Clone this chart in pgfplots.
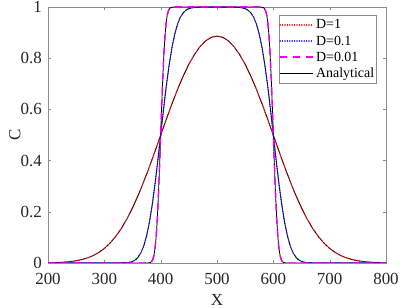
\documentclass[border=0pt]{standalone}
\usepackage{fontspec}
\setmainfont{Liberation Serif}
\usepackage{pgfplots}
\pgfplotsset{compat=1.18}
\usepackage{pgfplotstable}

\pgfplotstableread{
x c
200 0.0008
210 0.0013
220 0.0022
230 0.0036
240 0.0057
250 0.0088
260 0.0134
270 0.0199
280 0.0288
290 0.0409
300 0.0568
310 0.0774
320 0.1032
330 0.1344
340 0.1718
350 0.2152
360 0.2641
370 0.3181
380 0.3758
390 0.4367
400 0.4992
410 0.5615
420 0.6218
430 0.6782
440 0.7302
450 0.7760
460 0.8148
470 0.8457
480 0.8680
490 0.8817
500 0.8863
510 0.8817
520 0.8680
530 0.8457
540 0.8148
550 0.7760
560 0.7302
570 0.6782
580 0.6218
590 0.5615
600 0.4992
610 0.4367
620 0.3758
630 0.3181
640 0.2641
650 0.2152
660 0.1718
670 0.1344
680 0.1032
690 0.0774
700 0.0568
710 0.0409
720 0.0288
730 0.0199
740 0.0134
750 0.0088
760 0.0057
770 0.0036
780 0.0022
790 0.0013
800 0.0008
}\dataA

\pgfplotstableread{
x c
200 0
250 0
300 0
320 0.00003
330 0.0002
340 0.0014
345 0.0030
350 0.0062
355 0.0122
360 0.0227
365 0.0400
370 0.0666
375 0.1060
380 0.1589
385 0.2272
390 0.3087
395 0.4013
400 0.5
405 0.5987
410 0.6913
415 0.7728
420 0.8411
425 0.8940
430 0.9334
435 0.9600
440 0.9773
445 0.9878
450 0.9938
460 0.9986
470 0.9998
480 1
500 1
520 1
530 0.9998
540 0.9986
550 0.9938
555 0.9878
560 0.9773
565 0.9600
570 0.9334
575 0.8940
580 0.8411
585 0.7728
590 0.6913
595 0.5987
600 0.5
605 0.4013
610 0.3087
615 0.2272
620 0.1589
625 0.1060
630 0.0666
635 0.0400
640 0.0227
645 0.0122
650 0.0062
655 0.0030
660 0.0014
670 0.0002
680 0.00003
700 0
750 0
800 0
}\dataB

\pgfplotstableread{
x c
200 0
250 0
300 0
350 0
370 0
375 0.00004
380 0.0008
382 0.0022
384 0.0057
386 0.0134
388 0.0288
390 0.0568
392 0.1032
394 0.1718
396 0.2641
398 0.3760
400 0.5
402 0.6241
404 0.7359
406 0.8282
408 0.8968
410 0.9432
412 0.9712
414 0.9866
416 0.9943
418 0.9978
420 0.9992
425 1
450 1
500 1
550 1
575 1
580 0.9992
582 0.9978
584 0.9943
586 0.9866
588 0.9712
590 0.9432
592 0.8968
594 0.8282
596 0.7359
598 0.6241
600 0.5
602 0.3760
604 0.2641
606 0.1718
608 0.1032
610 0.0568
612 0.0288
614 0.0134
616 0.0057
618 0.0022
620 0.0008
625 0.00004
630 0
650 0
700 0
750 0
800 0
}\dataC

\definecolor{axgray}{gray}{0.55}
\definecolor{myblue}{rgb}{0.1,0.1,0.85}
\definecolor{dmagenta}{rgb}{0.95,0,0.95}
\definecolor{myred}{rgb}{1,0,0}

\begin{document}
\begin{tikzpicture}
\begin{axis}[
  scale only axis,
  width=338bp, height=256bp,
  xmin=200, xmax=800, ymin=0, ymax=1,
  xtick={200,300,400,500,600,700,800},
  ytick={0,0.2,0.4,0.6,0.8,1},
  axis line style={axgray},
  tick style={axgray},
  major tick length=3bp,
  tick align=inside,
  tick label style={font=\fontsize{17}{18}\selectfont, black!85, inner sep=0pt},
  /pgf/number format/assume math mode=true,
  xticklabel style={yshift=-10bp},
  yticklabel style={xshift=-6bp},
  xlabel={X}, ylabel={C},
  label style={font=\fontsize{17}{19}\selectfont, black!85, inner sep=0pt},
  xlabel style={at={(axis description cs:0.5,-0.145)}, anchor=center},
  ylabel style={at={(axis description cs:-0.098,0.5)}, anchor=center},
  legend style={at={(0.973,0.967)}, anchor=north east,
    font=\fontsize{14}{15}\selectfont, draw=axgray, fill=white,
    inner xsep=0.5bp, inner ysep=2bp, row sep=1.4bp,
    nodes={inner xsep=2bp}},
  legend cell align=left,
  legend image code/.code={\draw[#1] (0bp,0bp) -- (33bp,0bp);},
]
\coordinate (bl) at (rel axis cs:0,0);
\coordinate (tr) at (rel axis cs:1,1);
\addplot[black, line width=0.8pt, forget plot] table[x=x,y=c] {\dataA};
\addplot[black, line width=0.8pt, forget plot] table[x=x,y=c] {\dataB};
\addplot[black, line width=0.8pt, forget plot] table[x=x,y=c] {\dataC};
\addplot[color=myred, line width=1.6pt, dash pattern=on 0.01pt off 2.4pt, line cap=round] table[x=x,y=c] {\dataA};
\addlegendentry{D=1}
\addplot[color=myblue, line width=1.6pt, dash pattern=on 0.01pt off 2.4pt, line cap=round] table[x=x,y=c] {\dataB};
\addlegendentry{D=0.1}
\addplot[color=dmagenta, line width=1.5pt, dash pattern=on 7bp off 6bp, forget plot] table[x=x,y=c] {\dataC};
\addlegendimage{color=dmagenta, line width=1.8pt, dash pattern=on 7bp off 6bp}
\addlegendentry{D=0.01}
\addlegendimage{color=black, line width=0.8pt}
\addlegendentry{Analytical}
\end{axis}
\pgfresetboundingbox
\path ([xshift=-48bp,yshift=-45bp]bl) rectangle ([xshift=14bp,yshift=7bp]tr);
\end{tikzpicture}
\end{document}
